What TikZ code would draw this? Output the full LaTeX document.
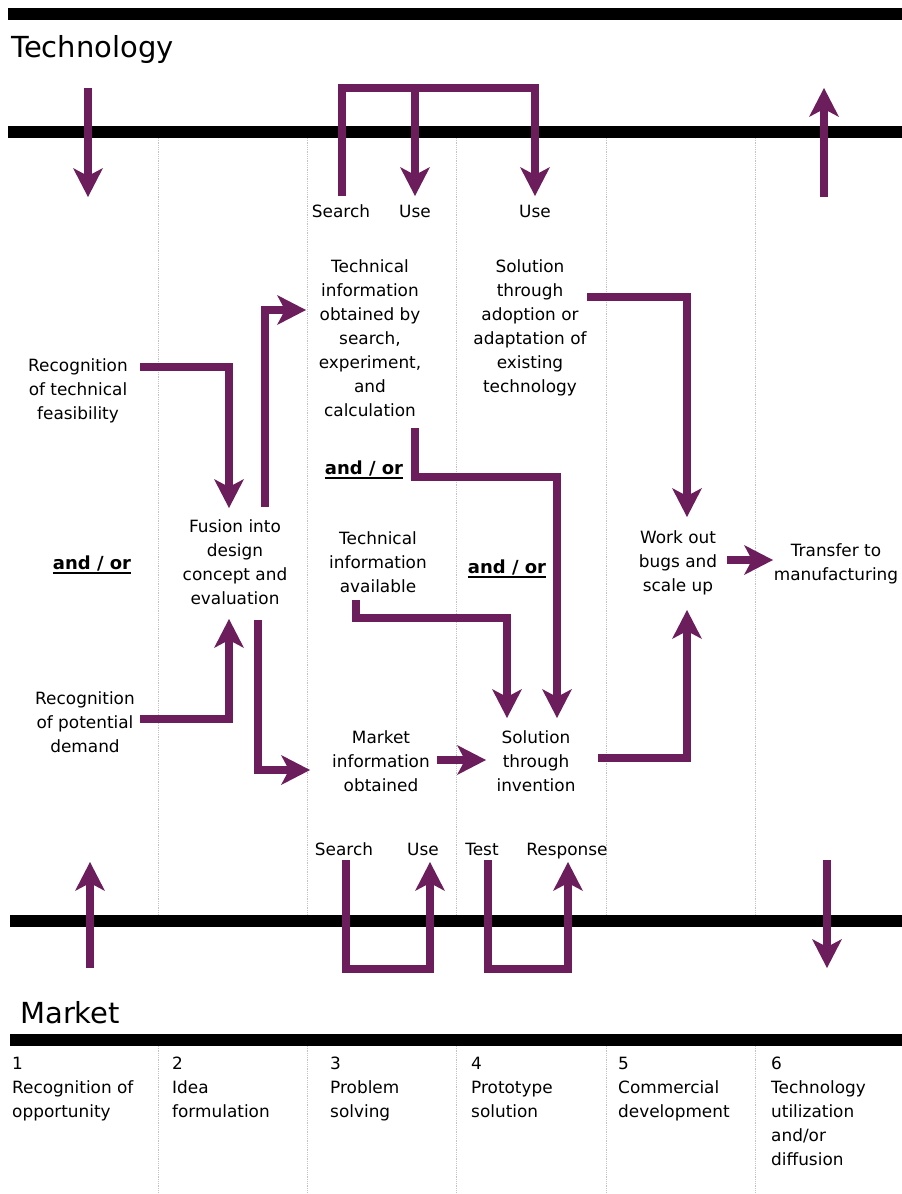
\documentclass[tikz,border=0pt]{standalone}
\usepackage{fontspec}
\setmainfont{DejaVu Sans}
\usetikzlibrary{arrows.meta,calc}

\definecolor{flowpurple}{RGB}{108,30,92}
\definecolor{divgray}{RGB}{195,195,195}

\newcommand{\andorlabel}{\setbox0\hbox{and / or}\rlap{\rule[-4pt]{\wd0}{1.8pt}}\box0}

\tikzset{
  flow/.style={draw=flowpurple, line width=8pt, line join=miter,
    -{Stealth[length=29pt,width=30pt,inset=8pt,line width=0pt]}},
  bar/.style={draw=black, line width=12.5pt},
  divider/.style={draw=divgray, line width=0.8pt, densely dotted},
  lbl/.style={font=\fontsize{16.9}{24}\selectfont, align=center, inner sep=0pt},
  tag/.style={font=\fontsize{16.9}{24}\selectfont, inner sep=0pt, anchor=base},
  stage/.style={font=\fontsize{16.9}{24}\selectfont, align=left, inner sep=0pt, anchor=north west},
  heading/.style={font=\fontsize{29}{34}\selectfont, inner sep=0pt, anchor=base west},
  andor/.style={inner sep=0pt, font=\bfseries\fontsize{18}{24}\selectfont},
}

\begin{document}
\begin{tikzpicture}[x=1pt, y=-1pt]
  \fill[white] (0,0) rectangle (902,1194);
  \useasboundingbox (0,0) rectangle (902,1194);

  % column dividers
  \foreach \dx in {158,307,456,606,755} {
    \draw[divider] (\dx,138) -- (\dx,915);
    \draw[divider] (\dx,1046) -- (\dx,1194);
  }

  % horizontal bars
  \draw[bar] (8,14) -- (902,14);
  \draw[bar] (8,132) -- (902,132);
  \draw[bar] (10,921) -- (902,921);
  \draw[bar] (10,1040) -- (902,1040);

  % headings
  \node[heading] (techhead) at (11,57) {Technology};
  \node[heading] (markethead) at (20,1023) {Market};

  % search / use labels (placed on their baselines)
  \node[tag] (tsearch) at (341,217) {Search};
  \node[tag] (tuse1) at (415,217) {Use};
  \node[tag] (tuse2) at (535,217) {Use};
  \node[tag] (msearch) at (344,855) {Search};
  \node[tag] (muse) at (423,855) {Use};
  \node[tag] (mtest) at (482,855) {Test};
  \node[tag] (mresp) at (567,855) {Response};

  % process steps
  \node[lbl] (rtf) at (78,391) {Recognition\\of technical\\feasibility};
  \node[lbl] (rpd) at (85,722) {Recognition\\of potential\\demand};
  \node[lbl] (fusion) at (235,562) {Fusion into\\design\\concept and\\evaluation};
  \node[lbl] (techobt) at (370,338) {Technical\\information\\obtained by\\search,\\experiment,\\and\\calculation};
  \node[lbl] (techavail) at (378,562) {Technical\\information\\available};
  \node[lbl] (mktinfo) at (381,761) {Market\\information\\obtained};
  \node[lbl] (adopt) at (530,328) {Solution\\through\\adoption or\\adaptation of\\existing\\technology};
  \node[lbl] (invent) at (536,761) {Solution\\through\\invention};
  \node[lbl] (workout) at (678,563) {Work out\\bugs and\\scale up};
  \node[lbl] (transfer) at (836,564) {Transfer to\\manufacturing};

  \node[andor] (andor1) at (92,565) {\andorlabel};
  \node[andor] (andor2) at (364,470) {\andorlabel};
  \node[andor] (andor3) at (507,569) {\andorlabel};

  % stage captions
  \node[stage] (s1) at (12,1057) {1\\Recognition of\\opportunity};
  \node[stage] (s2) at (172,1057) {2\\Idea\\formulation};
  \node[stage] (s3) at (330,1057) {3\\Problem\\solving};
  \node[stage] (s4) at (471,1057) {4\\Prototype\\solution};
  \node[stage] (s5) at (618,1057) {5\\Commercial\\development};
  \node[stage] (s6) at (771,1057) {6\\Technology\\utilization\\and/or\\diffusion};

  % free arrows crossing the bars
  \coordinate (tlTail) at (88,88);   \coordinate (tlHead) at (88,197);
  \coordinate (trTail) at (824,197); \coordinate (trHead) at (824,88);
  \coordinate (blTail) at (90,968);  \coordinate (blHead) at (90,862);
  \coordinate (brTail) at (827,860); \coordinate (brHead) at (827,968);
  \draw[flow] (tlTail) -- (tlHead);
  \draw[flow] (trTail) -- (trHead);
  \draw[flow] (blTail) -- (blHead);
  \draw[flow] (brTail) -- (brHead);

  % technology search / use loop
  \draw[flow] ($(tsearch.base)+(1,-21)$) -- ++(0,-108) -| ($(tuse2.base)+(0,-21)$);
  \draw[flow] ($(tuse1.base)+(0,-129)$) -- ($(tuse1.base)+(0,-21)$);

  % market search / use and test / response loops
  \draw[flow] ($(msearch.base)+(2,5)$) |- ($(muse.base)+(7,114)$) -- ($(muse.base)+(7,7)$);
  \draw[flow] ($(mtest.base)+(6,5)$) |- ($(mresp.base)+(1,114)$) -- ($(mresp.base)+(1,7)$);

  % main flow
  \draw[flow] ($(rtf)+(62,-24)$) -| ($(fusion)+(-6,-54)$);
  \draw[flow] ($(rpd)+(55,-3)$) -| ($(fusion)+(-6,57)$);
  \draw[flow] ($(fusion)+(30,-55)$) |- ($(techobt)+(-64,-28)$);
  \draw[flow] ($(fusion)+(23,58)$) |- ($(mktinfo)+(-71,9)$);
  \draw[flow] ($(mktinfo)+(56,-1)$) -- ($(invent)+(-50,-1)$);
  \draw[flow] ($(techobt)+(45,90)$) |- ($(invent)+(21,-284)$) -- ($(invent)+(21,-43)$);
  \draw[flow] ($(techavail)+(-22,38)$) |- ($(invent)+(-29,-143)$) -- ($(invent)+(-29,-43)$);
  \draw[flow] ($(adopt)+(57,-31)$) -| ($(workout)+(9,-46)$);
  \draw[flow] ($(invent)+(62,-3)$) -| ($(workout)+(9,47)$);
  \draw[flow] ($(workout)+(49,-3)$) -- ($(transfer)+(-63,-4)$);
\end{tikzpicture}
\end{document}
